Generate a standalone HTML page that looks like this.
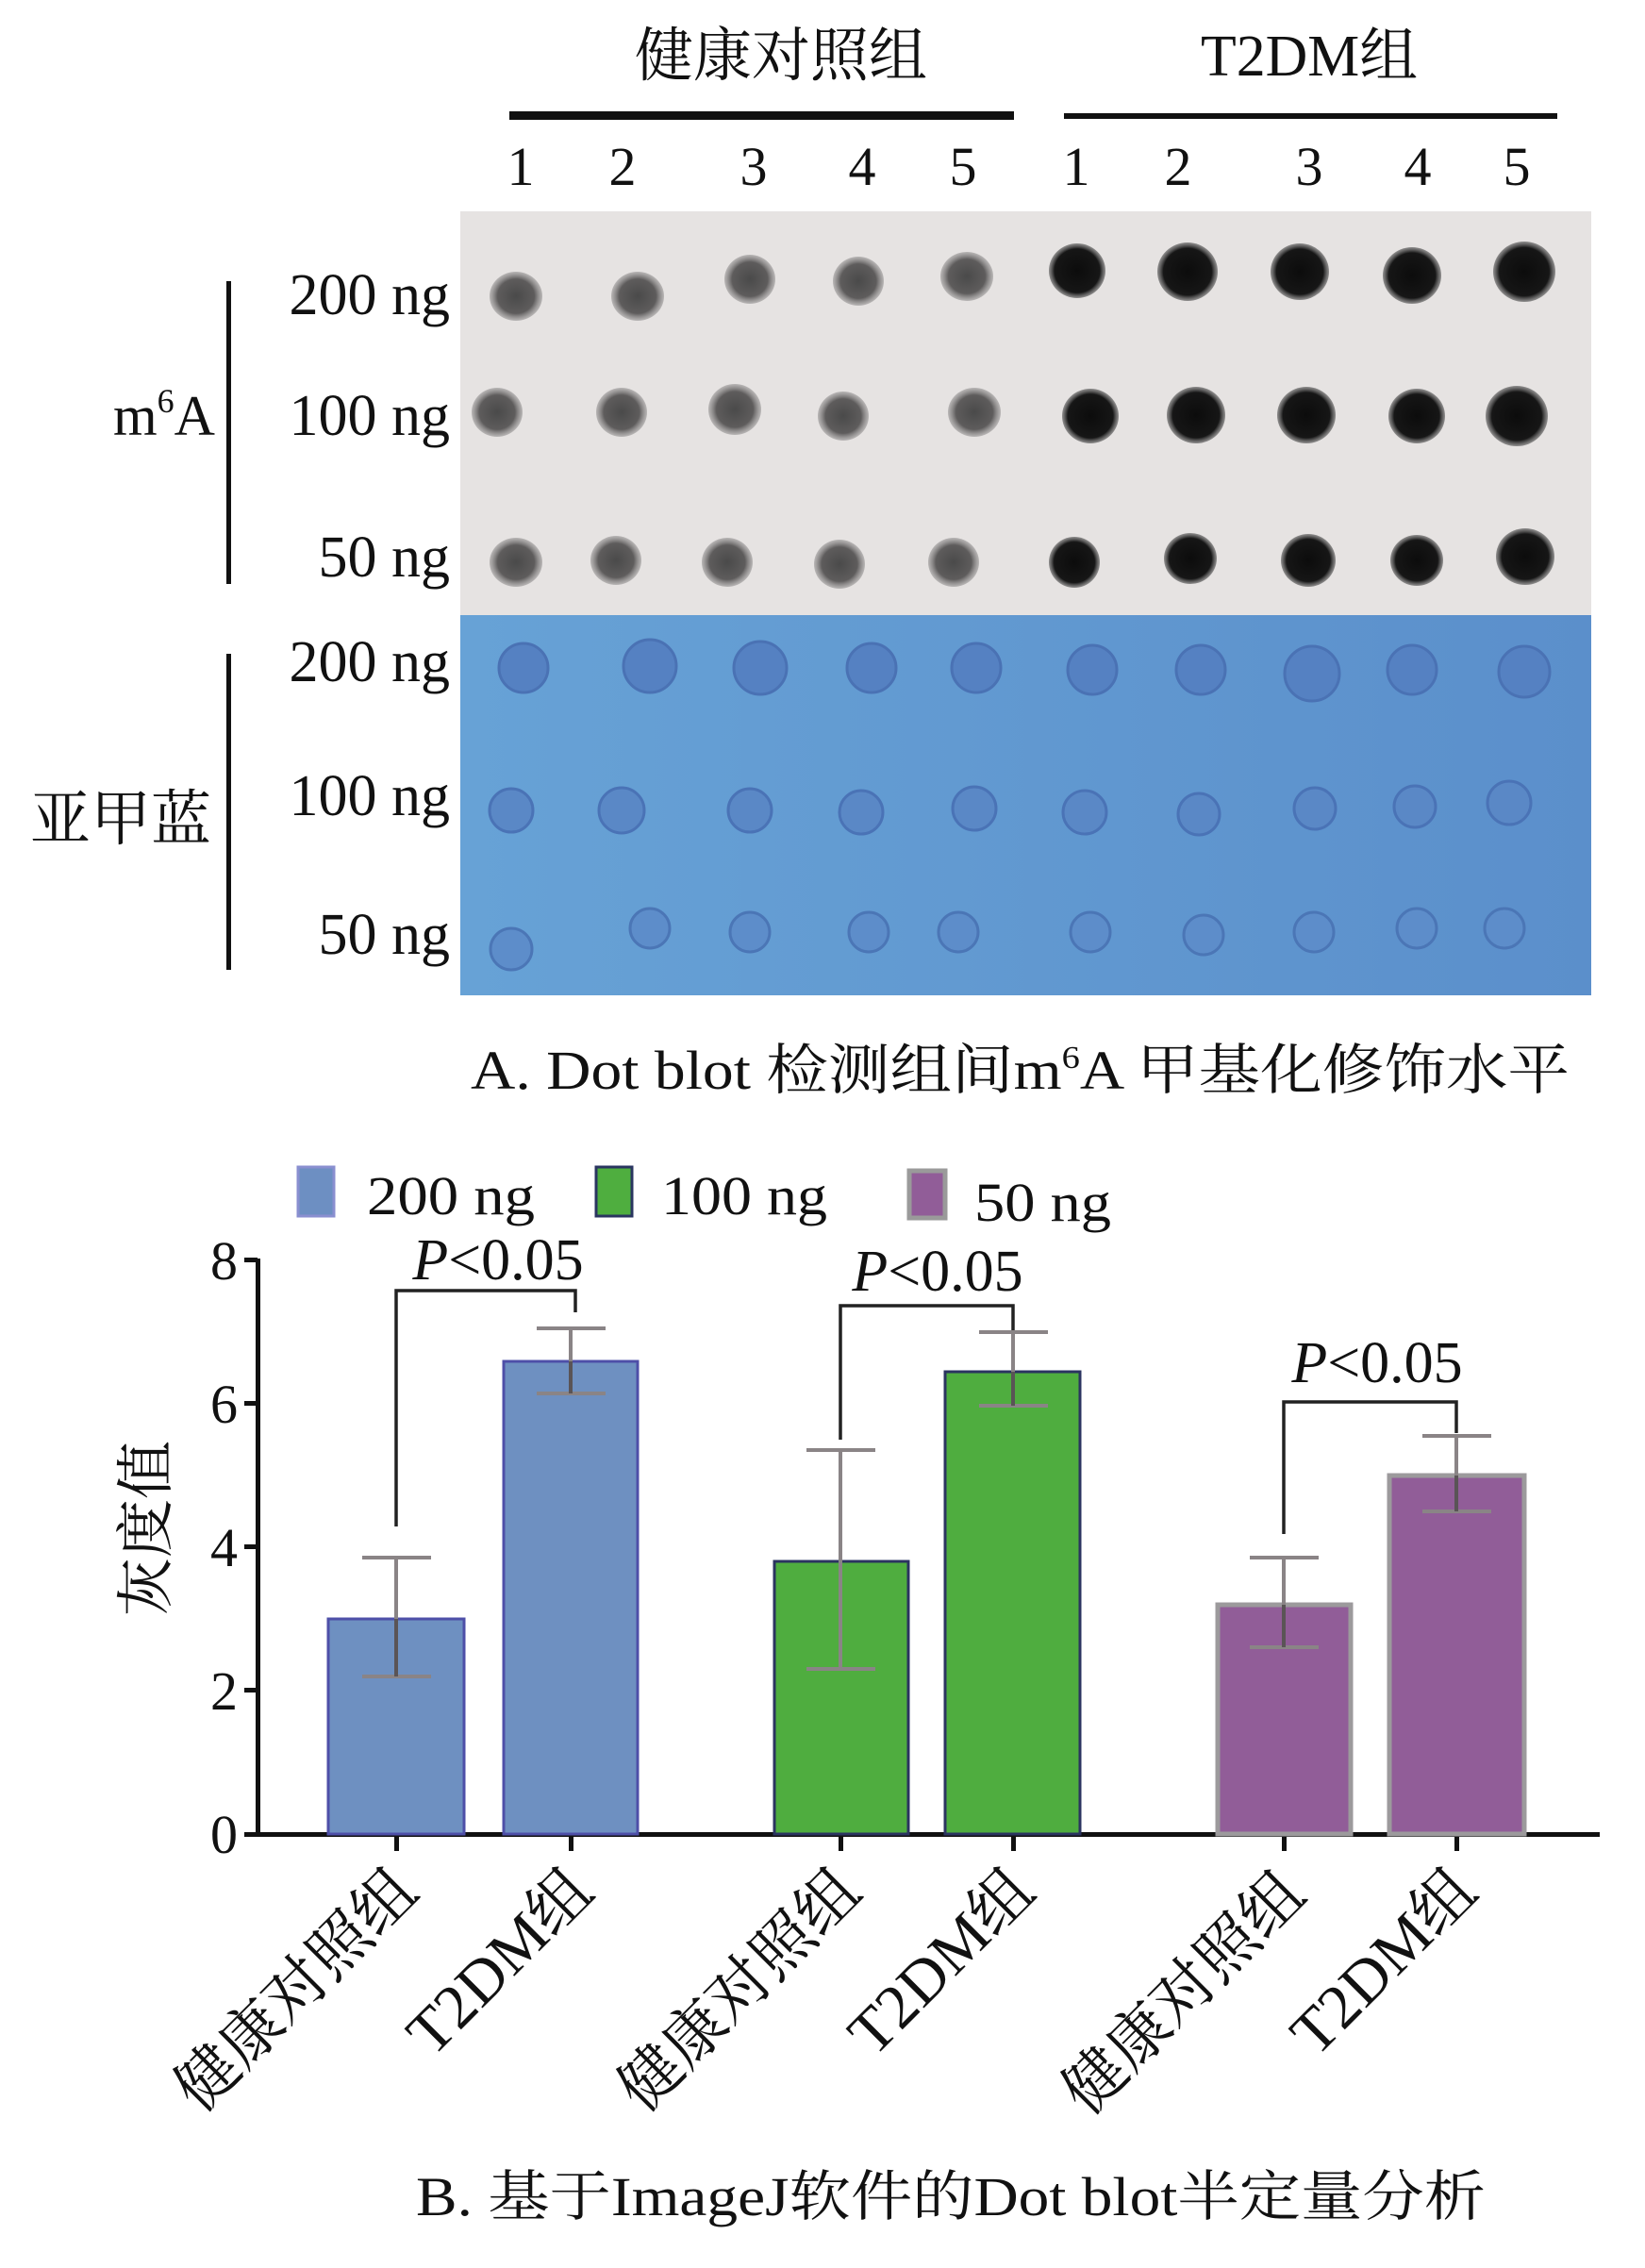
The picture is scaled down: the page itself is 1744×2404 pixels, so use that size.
<!DOCTYPE html>
<html><head><meta charset="utf-8"><style>
html,body{margin:0;padding:0;background:#fff;}
svg{display:block;}
text{font-family:"Liberation Serif","Noto Serif CJK SC",serif;fill:#111;}
</style></head><body>
<svg width="1744" height="2404" viewBox="0 0 1744 2404" xmlns="http://www.w3.org/2000/svg">
<defs>
<radialGradient id="dg" cx="50%" cy="50%" r="50%"><stop offset="0" stop-color="#4a4a4a"/><stop offset="0.7" stop-color="#5e5c5c"/><stop offset="1" stop-color="#8a8888" stop-opacity="0.5"/></radialGradient>
<radialGradient id="dk" cx="50%" cy="50%" r="50%"><stop offset="0" stop-color="#0c0c0c"/><stop offset="0.8" stop-color="#161616"/><stop offset="1" stop-color="#555" stop-opacity="0.6"/></radialGradient>
<linearGradient id="bl" x1="0" y1="0" x2="1" y2="0"><stop offset="0" stop-color="#67a2d6"/><stop offset="1" stop-color="#5b8fcb"/></linearGradient>
</defs>
<text x="828" y="80" font-size="62" text-anchor="middle">健康对照组</text>
<text x="1388" y="80" font-size="62" text-anchor="middle" textLength="230" lengthAdjust="spacingAndGlyphs">T2DM组</text>
<rect x="540" y="118" width="535" height="9" fill="#111"/>
<rect x="1128" y="120" width="523" height="6" fill="#111"/>
<g font-size="58" text-anchor="middle">
<text x="552" y="196">1</text><text x="660" y="196">2</text><text x="799" y="196">3</text><text x="914" y="196">4</text><text x="1021" y="196">5</text>
<text x="1141" y="196">1</text><text x="1249" y="196">2</text><text x="1388" y="196">3</text><text x="1503" y="196">4</text><text x="1608" y="196">5</text>
</g>
<rect x="488" y="224" width="1199" height="428" fill="#e6e3e2"/>
<rect x="488" y="652" width="1199" height="403" fill="url(#bl)"/>
<g fill="url(#dg)">
<ellipse cx="547" cy="314" rx="28" ry="26"/><ellipse cx="676" cy="314" rx="28" ry="26"/><ellipse cx="795" cy="296" rx="27" ry="26"/><ellipse cx="910" cy="298" rx="27" ry="26"/><ellipse cx="1025" cy="293" rx="28" ry="26"/>
<ellipse cx="527" cy="437" rx="27" ry="26"/><ellipse cx="659" cy="437" rx="27" ry="26"/><ellipse cx="779" cy="434" rx="28" ry="27"/><ellipse cx="894" cy="441" rx="27" ry="26"/><ellipse cx="1033" cy="437" rx="28" ry="26"/>
<ellipse cx="547" cy="596" rx="28" ry="26"/><ellipse cx="653" cy="594" rx="27" ry="26"/><ellipse cx="771" cy="596" rx="27" ry="26"/><ellipse cx="890" cy="598" rx="27" ry="26"/><ellipse cx="1011" cy="596" rx="27" ry="26"/>
</g>
<g fill="url(#dk)">
<ellipse cx="1142" cy="287" rx="30" ry="29"/><ellipse cx="1259" cy="288" rx="32" ry="31"/><ellipse cx="1378" cy="288" rx="31" ry="30"/><ellipse cx="1497" cy="292" rx="31" ry="30"/><ellipse cx="1616" cy="288" rx="33" ry="32"/>
<ellipse cx="1156" cy="441" rx="30" ry="29"/><ellipse cx="1268" cy="440" rx="31" ry="30"/><ellipse cx="1385" cy="440" rx="31" ry="30"/><ellipse cx="1502" cy="441" rx="30" ry="29"/><ellipse cx="1608" cy="441" rx="33" ry="32"/>
<ellipse cx="1139" cy="596" rx="27" ry="27"/><ellipse cx="1262" cy="592" rx="28" ry="27"/><ellipse cx="1387" cy="594" rx="29" ry="28"/><ellipse cx="1502" cy="594" rx="28" ry="27"/><ellipse cx="1617" cy="590" rx="31" ry="30"/>
</g>
<g fill="#5581c2" stroke="#4a72b4" stroke-width="3">
<circle cx="555" cy="708" r="26"/><circle cx="689" cy="706" r="28"/><circle cx="806" cy="708" r="28"/><circle cx="924" cy="708" r="26"/><circle cx="1035" cy="708" r="26"/>
<circle cx="1158" cy="710" r="26"/><circle cx="1273" cy="710" r="26"/><circle cx="1391" cy="714" r="29"/><circle cx="1497" cy="710" r="26"/><circle cx="1616" cy="712" r="27"/>
</g>
<g fill="#5a88c6" stroke="#4a73b6" stroke-width="3">
<circle cx="542" cy="859" r="23"/><circle cx="659" cy="859" r="24"/><circle cx="795" cy="859" r="23"/><circle cx="913" cy="861" r="23"/><circle cx="1033" cy="857" r="23"/>
<circle cx="1150" cy="861" r="23"/><circle cx="1271" cy="863" r="22"/><circle cx="1394" cy="857" r="22"/><circle cx="1500" cy="855" r="22"/><circle cx="1600" cy="851" r="23"/>
</g>
<g fill="#5d8dca" stroke="#4b76b6" stroke-width="3">
<circle cx="542" cy="1006" r="22"/><circle cx="689" cy="984" r="21"/><circle cx="795" cy="988" r="21"/><circle cx="921" cy="988" r="21"/><circle cx="1016" cy="988" r="21"/>
<circle cx="1156" cy="988" r="21"/><circle cx="1276" cy="991" r="21"/><circle cx="1393" cy="988" r="21"/><circle cx="1502" cy="984" r="21"/><circle cx="1595" cy="984" r="21"/>
</g>
<g font-size="62" text-anchor="end">
<text x="477" y="333">200 ng</text><text x="477" y="461">100 ng</text><text x="477" y="611">50 ng</text>
<text x="477" y="722">200 ng</text><text x="477" y="864">100 ng</text><text x="477" y="1011">50 ng</text>
</g>
<rect x="240" y="298" width="5" height="321" fill="#111"/>
<rect x="240" y="693" width="5" height="335" fill="#111"/>
<text x="228" y="461" font-size="60" text-anchor="end">m<tspan font-size="36" dy="-24">6</tspan><tspan dy="24">A</tspan></text>
<text x="128" y="890" font-size="64" text-anchor="middle">亚甲蓝</text>
<text x="499" y="1154" font-size="58" textLength="1165" lengthAdjust="spacingAndGlyphs">A. Dot blot 检测组间m<tspan font-size="34" dy="-22">6</tspan><tspan dy="22">A 甲基化修饰水平</tspan></text>

<rect x="316" y="1237" width="38" height="52" fill="#6d8fc2" stroke="#8a8fd0" stroke-width="3"/>
<text x="389" y="1287" font-size="58" textLength="178" lengthAdjust="spacingAndGlyphs">200 ng</text>
<rect x="632" y="1237" width="38" height="52" fill="#4fae3f" stroke="#2a3560" stroke-width="3"/>
<text x="701" y="1287" font-size="58" textLength="176" lengthAdjust="spacingAndGlyphs">100 ng</text>
<rect x="964" y="1241" width="38" height="50" fill="#915d98" stroke="#9a9a9a" stroke-width="5"/>
<text x="1033" y="1294" font-size="58" textLength="145" lengthAdjust="spacingAndGlyphs">50 ng</text>

<rect x="271" y="1334" width="5" height="613" fill="#111"/>
<rect x="259" y="1942" width="1437" height="5" fill="#111"/>
<g fill="#111">
<rect x="259" y="1333" width="14" height="5"/><rect x="259" y="1485" width="14" height="5"/><rect x="259" y="1637" width="14" height="5"/><rect x="259" y="1789" width="14" height="5"/>
<rect x="418" y="1944" width="5" height="18"/><rect x="603" y="1944" width="5" height="18"/><rect x="889" y="1944" width="5" height="18"/><rect x="1072" y="1944" width="5" height="18"/><rect x="1359" y="1944" width="5" height="18"/><rect x="1542" y="1944" width="5" height="18"/>
</g>
<g font-size="58" text-anchor="end">
<text x="252" y="1356">8</text><text x="252" y="1508">6</text><text x="252" y="1660">4</text><text x="252" y="1812">2</text><text x="252" y="1964">0</text>
</g>
<text transform="translate(176,1620) rotate(-90)" font-size="62" text-anchor="middle">灰度值</text>

<rect x="348" y="1716" width="144" height="228" fill="#6e90c1" stroke="#4e4fa8" stroke-width="3"/>
<rect x="534" y="1443" width="142" height="501" fill="#6e90c1" stroke="#4e4fa8" stroke-width="3"/>
<rect x="821" y="1655" width="142" height="289" fill="#4fad3f" stroke="#2b3460" stroke-width="3"/>
<rect x="1002" y="1454" width="143" height="490" fill="#4fad3f" stroke="#2b3460" stroke-width="3"/>
<rect x="1291" y="1701" width="141" height="243" fill="#915d98" stroke="#9c9a9c" stroke-width="5"/>
<rect x="1473" y="1564" width="143" height="380" fill="#915d98" stroke="#9c9a9c" stroke-width="5"/>

<g stroke="#8a8486" stroke-width="4" fill="none">
<path d="M420 1651V1777M384 1651H457M384 1777H457"/>
<path d="M605 1408V1477M569 1408H642M569 1477H642"/>
<path d="M891 1537V1769M855 1537H928M855 1769H928"/>
<path d="M1074 1412V1490M1038 1412H1111M1038 1490H1111"/>
<path d="M1361 1651V1746M1325 1651H1398M1325 1746H1398"/>
<path d="M1544 1522V1602M1508 1522H1581M1508 1602H1581"/>
</g>
<g stroke="#5a5456" stroke-width="4">
<path d="M420 1716V1777M1361 1701V1746M1544 1564V1602M605 1443V1477M1074 1454V1490"/>
</g>
<g stroke="#222" stroke-width="3.5" fill="none">
<path d="M420 1618V1368H610V1391"/>
<path d="M891 1526V1384H1074V1410"/>
<path d="M1361 1626V1486H1544V1519"/>
</g>
<g font-size="62" text-anchor="middle">
<text x="528" y="1356"><tspan font-style="italic">P</tspan>&lt;0.05</text>
<text x="994" y="1368"><tspan font-style="italic">P</tspan>&lt;0.05</text>
<text x="1460" y="1465"><tspan font-style="italic">P</tspan>&lt;0.05</text>
</g>
<g font-size="66" text-anchor="end">
<text transform="translate(446,2008) rotate(-45)">健康对照组</text>
<text transform="translate(632,2008) rotate(-45)">T2DM组</text>
<text transform="translate(916,2008) rotate(-45)">健康对照组</text>
<text transform="translate(1100,2008) rotate(-45)">T2DM组</text>
<text transform="translate(1387,2011) rotate(-45)">健康对照组</text>
<text transform="translate(1569,2008) rotate(-45)">T2DM组</text>
</g>
<text x="441" y="2348" font-size="58" textLength="1134" lengthAdjust="spacingAndGlyphs">B. 基于ImageJ软件的Dot blot半定量分析</text>
</svg>
</body></html>
